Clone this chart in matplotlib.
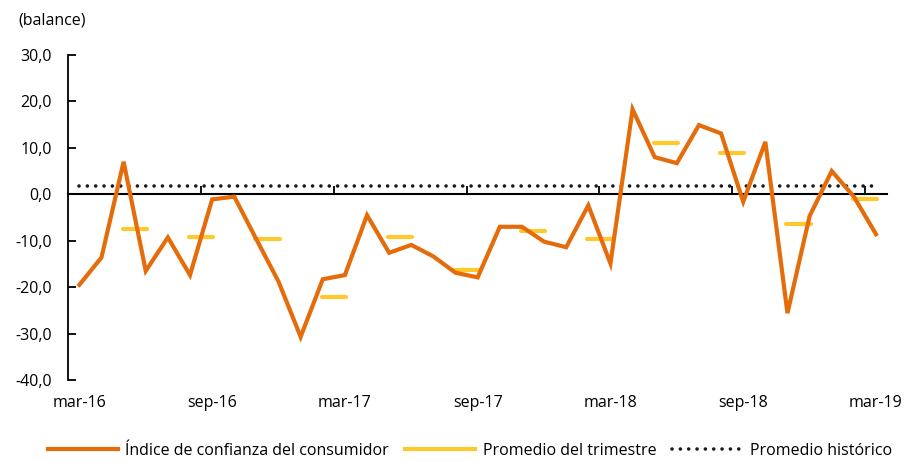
import matplotlib.pyplot as plt

plt.rcParams['font.family'] = ['Open Sans', 'DejaVu Sans']

# monthly consumer confidence index, mar-16 .. mar-19
meses = ['mar-16', 'abr-16', 'may-16', 'jun-16', 'jul-16', 'ago-16', 'sep-16',
         'oct-16', 'nov-16', 'dic-16', 'ene-17', 'feb-17', 'mar-17', 'abr-17',
         'may-17', 'jun-17', 'jul-17', 'ago-17', 'sep-17', 'oct-17', 'nov-17',
         'dic-17', 'ene-18', 'feb-18', 'mar-18', 'abr-18', 'may-18', 'jun-18',
         'jul-18', 'ago-18', 'sep-18', 'oct-18', 'nov-18', 'dic-18', 'ene-19',
         'feb-19', 'mar-19']
indice = [-19.5, -13.6, 7.0, -16.5, -9.3, -17.4, -1.1, -0.5, -9.7, -18.8,
          -30.7, -18.3, -17.4, -4.5, -12.6, -10.9, -13.4, -16.9, -17.9, -7.0,
          -7.0, -10.2, -11.4, -2.4, -14.9, 18.3, 8.0, 6.7, 14.9, 13.1, -1.6,
          11.3, -25.6, -4.7, 5.0, -0.5, -8.6]

# quarterly averages, Q2-16 .. Q1-19
trimestre = [-7.5, -9.3, -9.7, -22.2, -9.3, -16.2, -8.0, -9.7, 11.0, 8.8, -6.3, -1.1]

historico = 1.8

etiquetas = ['mar-16', 'sep-16', 'mar-17', 'sep-17', 'mar-18', 'sep-18', 'mar-19']
yticks = [30, 20, 10, 0, -10, -20, -30, -40]

naranja = '#E46C0A'
amarillo = '#FFC92E'
fs = 11.5

fig = plt.figure(figsize=(9.07, 4.61), dpi=100)
ax = fig.add_axes([0.0753, 0.1757, 0.9027, 0.705])

x = list(range(len(meses)))
ax.plot(x, [historico] * len(x), color='#1a1a1a', lw=2.6,
        linestyle=(0, (0.01, 2.3)), dash_capstyle='round',
        label='Promedio histórico', zorder=2)

# quarter dashes sit between the 2nd and 3rd month of each quarter
xq = [3 * i + 2.5 for i in range(len(trimestre))]
ax.hlines(trimestre, [v - 0.55 for v in xq], [v + 0.55 for v in xq],
          color=amarillo, lw=3, capstyle='round', zorder=3)
ax.plot([], [], color=amarillo, lw=3, label='Promedio del trimestre')

ax.plot(x, indice, color=naranja, lw=3, solid_joinstyle='miter',
        label='Índice de confianza del consumidor', zorder=4)

ax.set_xlim(-0.5, len(meses) - 0.5)
ax.set_ylim(-40, 30)

ax.set_yticks(yticks)
ax.set_yticklabels([f'{v:.1f}'.replace('.', ',') for v in yticks])
ax.tick_params(axis='y', direction='in', length=6, width=1.3, pad=12,
               labelsize=fs, colors='black')

ax.set_xticks([meses.index(e) for e in etiquetas])
ax.set_xticklabels(etiquetas)
ax.tick_params(axis='x', length=0, pad=11, labelsize=fs)

for s in ['top', 'right', 'bottom']:
    ax.spines[s].set_visible(False)
ax.spines['left'].set_linewidth(1.3)

# zero axis with tick marks between categories
cero = ax.secondary_xaxis(0, transform=ax.transData)
cero.set_xticks([5.5 + 6 * i for i in range(6)])
cero.set_xticklabels([])
cero.tick_params(direction='in', length=6, width=1.3)
cero.spines['bottom'].set_linewidth(1.5)

fig.text(0.02, 0.955, '(balance)', fontsize=fs, va='center')

h, l = ax.get_legend_handles_labels()
orden = [2, 1, 0]
fig.legend([h[i] for i in orden], [l[i] for i in orden], loc='center',
           bbox_to_anchor=(0.518, 0.022), ncol=3, frameon=False,
           fontsize=fs, handlelength=4.4, handletextpad=0.45,
           columnspacing=1.0)

fig.savefig('out.png', dpi=100)
